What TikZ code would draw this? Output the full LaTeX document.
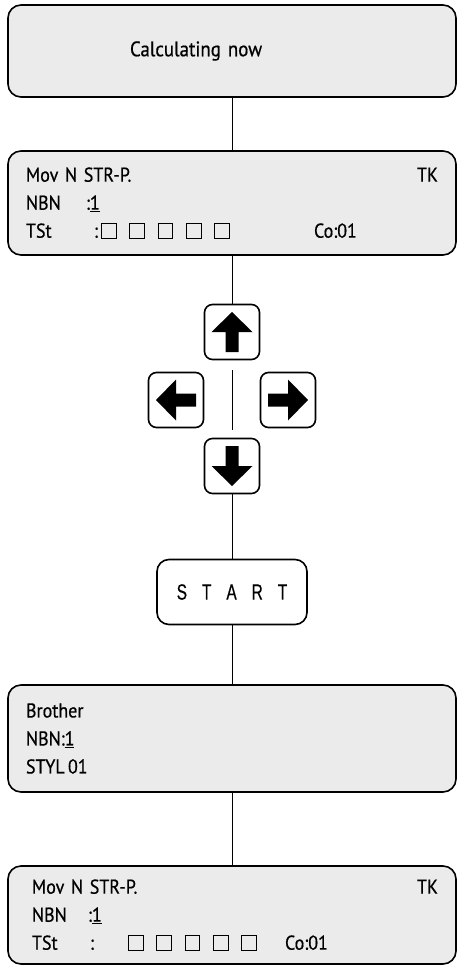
\documentclass[tikz,border=0pt]{standalone}
\usepackage{fontspec}
\setmainfont{PT Sans}
\newfontfamily\lcdfont{PT Sans}[FakeStretch=0.9,FakeBold=0.6]
\newfontfamily\keyfont{Liberation Sans}[FakeStretch=0.7,FakeBold=0.4]

\newcommand{\lcdcell}{{\setlength{\fboxsep}{0pt}\setlength{\fboxrule}{0.9pt}\fbox{\rule{0pt}{14pt}\hspace{14pt}}}}
\newcommand{\lcdcells}{\lcdcell\hspace{12.5pt}\lcdcell\hspace{12.5pt}\lcdcell\hspace{12.5pt}\lcdcell\hspace{12.5pt}\lcdcell}
\newcommand{\lcdfill}{\hspace{0pt plus 1filll}}

\begin{document}
\begin{tikzpicture}[x=1pt,y=1pt,thick,
  lcd node/.style={draw,line width=1.6pt,rounded corners=13pt,fill=gray!16,minimum width=448pt,
    text width=412pt,inner xsep=18pt,align=left,font=\lcdfont\fontsize{20}{28}\selectfont},
  key node/.style={draw,line width=1.6pt,rounded corners=8pt,minimum size=55pt,inner sep=0pt},
  start node/.style={draw,line width=1.6pt,rounded corners=12pt,minimum width=150pt,minimum height=65pt,
    font=\keyfont\fontsize{22}{24}\selectfont},
  key arrow/.pic={\fill (-6.5,-20) -- (6.5,-20) -- (6.5,0) -- (20.5,0) -- (0,20) -- (-20.5,0) -- (-6.5,0) -- cycle;}]

 \useasboundingbox (0,0) rectangle (464,-972);

 \node[lcd node,minimum height=92pt,font=\lcdfont\fontsize{21}{24}\selectfont] (calc) at (232,-51) {\hspace*{104pt}Calculating now};
 \node[lcd node,minimum height=104pt,node distance=152pt] (mov1) [below of=calc]
   {Mov N STR-P.\lcdfill TK\\
    \makebox[60pt][l]{NBN}:\underline{1}\\
    \makebox[68pt][l]{TSt}\makebox[7pt][l]{:}\makebox[213pt][l]{\lcdcells}Co:01};
 \node[key node,node distance=129pt] (up) [below of=mov1] {};
 \node[key node,node distance=134pt] (down) [below of=up] {};
 \node[key node] (left) at (176,-400) {};
 \node[key node] (right) at (288,-400) {};
 \node[start node,node distance=126pt] (start) [below of=down]
   {S\hspace{15pt}T\hspace{15pt}A\hspace{15pt}R\hspace{15pt}T};
 \node[lcd node,minimum height=107pt,node distance=146.5pt] (brother) [below of=start]
   {Brother\\ NBN:\underline{1}\\ STYL\,01};
 \node[lcd node,minimum height=98pt,node distance=176.5pt] (mov2) [below of=brother]
   {\hspace*{6pt}Mov N STR-P.\lcdfill TK\\
    \hspace*{6pt}\makebox[56pt][l]{NBN}:\underline{1}\\
    \hspace*{6pt}\makebox[58pt][l]{TSt}\makebox[38pt][l]{:}\makebox[157pt][l]{\lcdcells}Co:01};

 % arrow keys
 \pic at (up) {key arrow};
 \pic[rotate=180] at (down) {key arrow};
 \pic[rotate=90] at (left) {key arrow};
 \pic[rotate=-90] at (right) {key arrow};

 \path[draw,line width=0.9pt]
    (calc)    edge (mov1)
    (mov1)    edge (up)
    (up)      edge [shorten <=10pt,shorten >=8pt] (down)
    (down)    edge (start)
    (start)   edge (brother)
    (brother) edge (mov2);

\end{tikzpicture}
\end{document}
